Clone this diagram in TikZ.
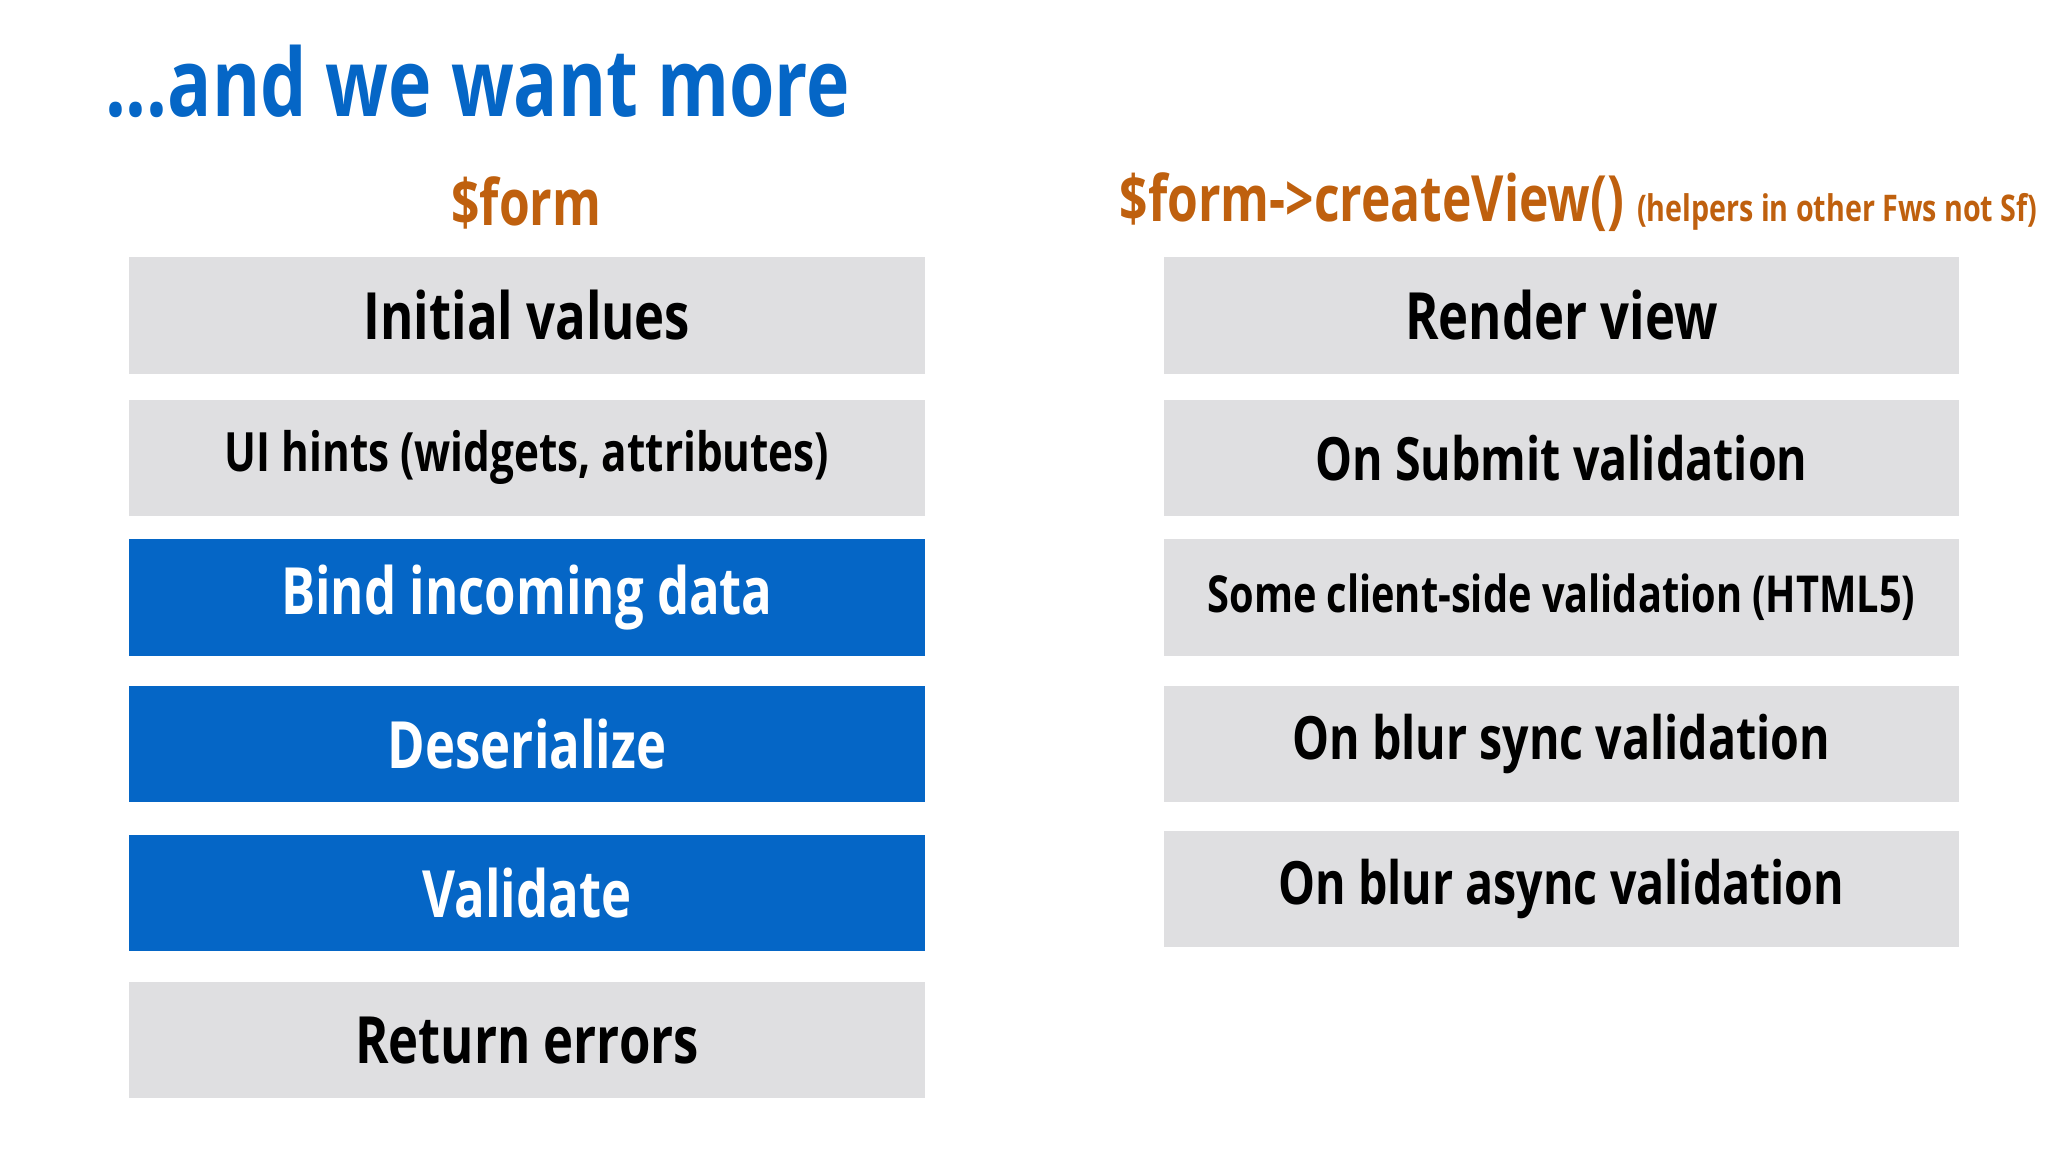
\documentclass[tikz,border=0pt]{standalone}
\usepackage{fontspec}
\setmainfont{Open Sans}[FakeStretch=0.78,UprightFont=* Bold]
\usetikzlibrary{positioning}
\definecolor{slideblue}{HTML}{0566C6}
\definecolor{boxgrey}{HTML}{DFDFE1}
\definecolor{headorange}{HTML}{BF600E}
\tikzset{
  greybox/.style={fill=boxgrey, minimum width=6.09cm, minimum height=0.89cm, inner sep=0pt, font=\fontsize{14.2}{16}\selectfont},
  bluebox/.style={greybox, fill=slideblue, text=white},
  header/.style={text=headorange, font=\fontsize{13.9}{16}\selectfont}
}
\begin{document}
\begin{tikzpicture}
  \useasboundingbox (0,0) rectangle (15.68,8.82);
  \node[anchor=west, text=slideblue, font=\fontsize{20.5}{23}\selectfont] (title) at (0.68,8.2) {...and we want more};

  \node[header] (lhead) at (4.03,7.27) {\$form};
  \node[header, anchor=west] (rhead) at (8.45,7.27) {\$form->createView() {\fontsize{8}{9}\selectfont(helpers in other Fws not Sf)}};

  % left column
  \node[greybox] (init) at (4.035,6.405) {Initial values};
  \node[greybox, font=\fontsize{11.8}{14}\selectfont] (hints) at (4.035,5.315) {UI hints (widgets, attributes)};
  \node[bluebox] (bind) at (4.035,4.245) {Bind incoming data};
  \node[bluebox] (deser) at (4.035,3.125) {Deserialize};
  \node[bluebox] (valid) at (4.035,1.985) {Validate};
  \node[greybox] (errors) at (4.035,0.855) {Return errors};

  % right column
  \node[greybox] (render) at (11.955,6.405) {Render view};
  \node[greybox, font=\fontsize{13}{15}\selectfont] (submit) at (11.955,5.315) {On Submit validation};
  \node[greybox, font=\fontsize{11.1}{13}\selectfont] (client) at (11.955,4.245) {Some client-side validation (HTML5)};
  \node[greybox, font=\fontsize{13}{15}\selectfont] (sync) at (11.955,3.125) {On blur sync validation};
  \node[greybox, font=\fontsize{13}{15}\selectfont] (async) at (11.955,2.015) {On blur async validation};
\end{tikzpicture}
\end{document}
